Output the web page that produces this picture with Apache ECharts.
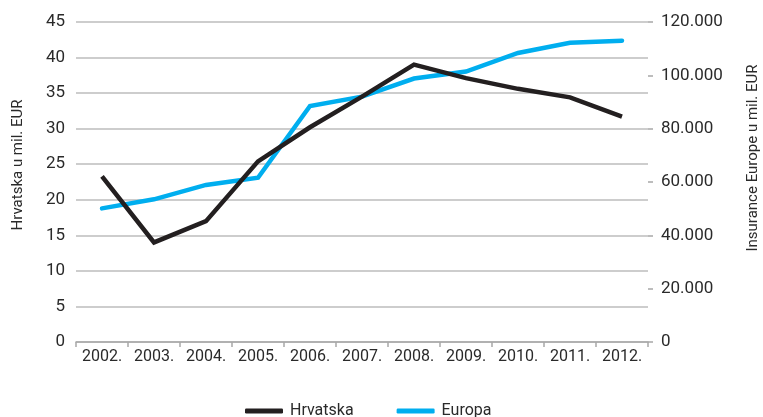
<!DOCTYPE html>
<html>
<head>
<meta charset="utf-8">
<script src="https://cdn.jsdelivr.net/npm/echarts@6/dist/echarts.min.js"></script>
<style>html,body{margin:0;padding:0;background:#fff}#c{width:763px;height:417px}</style>
</head>
<body>
<div id="c"></div>
<script>
const categories = ['2002.', '2003.', '2004.', '2005.', '2006.', '2007.', '2008.', '2009.', '2010.', '2011.', '2012.'];
const hrvatska = [23.3, 14.0, 17.0, 25.4, 30.2, 34.5, 39.0, 37.1, 35.6, 34.4, 31.7];
const europa = [50100, 53500, 58900, 61600, 88500, 92000, 98800, 101400, 108400, 112200, 113000];
const leftTitle = 'Hrvatska u mil. EUR';
const rightTitle = 'Insurance Europe u mil. EUR';

const FONT = 'Roboto';
const TXT = '#2a2a2a';
const chart = echarts.init(document.getElementById('c'), null, {renderer: 'canvas'});
chart.setOption({
  animation: false,
  backgroundColor: '#fff',
  grid: {left: 76, right: 115, top: 22, bottom: 75, containLabel: false},
  legend: {
    data: ['Hrvatska', 'Europa'],
    left: 240, top: 398,
    icon: 'roundRect',
    itemWidth: 38, itemHeight: 5, itemGap: 43,
    textStyle: {fontFamily: FONT, fontSize: 16, color: TXT, padding: [0, 0, 0, 2]}
  },
  xAxis: {
    type: 'category', data: categories, boundaryGap: true,
    axisLine: {lineStyle: {color: '#a8a8a8', width: 1.5}},
    axisTick: {show: true, length: 5, lineStyle: {color: '#a8a8a8', width: 1.5}},
    axisLabel: {fontFamily: FONT, fontSize: 16, color: TXT, margin: 7, interval: 0, hideOverlap: false}
  },
  yAxis: [{
    type: 'value', min: 0, max: 45, interval: 5,
    axisLine: {show: false}, axisTick: {show: false},
    axisLabel: {fontFamily: FONT, fontSize: 17, color: TXT, margin: 11},
    splitLine: {lineStyle: {color: '#bdbdbd', width: 1.5}}
  }, {
    type: 'value', min: 0, max: 120000, interval: 20000, position: 'right',
    axisLine: {show: false},
    axisTick: {show: true, length: 5, lineStyle: {color: '#a8a8a8', width: 1.5}},
    axisLabel: {fontFamily: FONT, fontSize: 17, color: TXT, margin: 13,
      formatter: v => v === 0 ? '0' : String(v).replace(/\B(?=(\d{3})+(?!\d))/g, '.')},
    splitLine: {show: false}
  }],
  graphic: [
    {type: 'text', x: 18, y: 165, rotation: Math.PI / 2,
      style: {text: leftTitle, fontFamily: FONT, fontSize: 15, fill: TXT, align: 'center', verticalAlign: 'middle'}},
    {type: 'text', x: 753, y: 158, rotation: Math.PI / 2,
      style: {text: rightTitle, fontFamily: FONT, fontSize: 15, fill: TXT, align: 'center', verticalAlign: 'middle'}}
  ],
  series: [{
    name: 'Europa', type: 'line', yAxisIndex: 1, data: europa,
    showSymbol: false, symbol: 'none',
    lineStyle: {color: '#00aeef', width: 4.5, cap: 'round', join: 'miter'},
    itemStyle: {color: '#00aeef'}, z: 2
  }, {
    name: 'Hrvatska', type: 'line', yAxisIndex: 0, data: hrvatska,
    showSymbol: false, symbol: 'none',
    lineStyle: {color: '#231f20', width: 4.5, cap: 'butt', join: 'miter'},
    itemStyle: {color: '#231f20'}, z: 3
  }]
});
</script>
</body>
</html>
